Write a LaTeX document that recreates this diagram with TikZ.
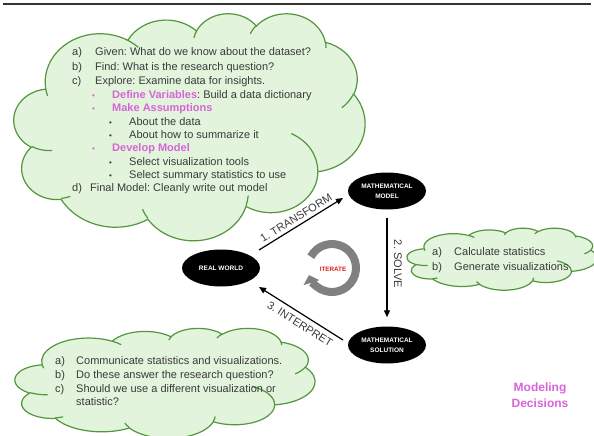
\documentclass[tikz,border=0pt]{standalone}
\usepackage{fontspec}
\setmainfont{Liberation Sans}
\usetikzlibrary{shapes.geometric,arrows.meta}
\definecolor{cloudfill}{RGB}{226,244,220}
\definecolor{cloudline}{RGB}{84,150,62}
\definecolor{txtgray}{RGB}{58,58,58}
\definecolor{pinkc}{RGB}{216,100,216}
\definecolor{ringgray}{RGB}{128,128,128}
\definecolor{iterred}{RGB}{222,30,30}
\frenchspacing

% OOXML-style elliptical arc (geometric angles -> parametric)
\newcommand\cldarc[4]{arc[x radius=#1, y radius=#2,
  start angle={atan2((#1)*sin(#3),(#2)*cos(#3))},
  delta angle={mod(atan2((#1)*sin((#3)+(#4)),(#2)*cos((#3)+(#4)))-atan2((#1)*sin(#3),(#2)*cos(#3))+720,360)}]}
\newcommand\cloudouter{(39.00,143.70)
 \cldarc{67.53}{91.90}{-190.4875}{123.7805}
 \cldarc{53.33}{72.67}{-144.1024}{89.9452}
 \cldarc{43.65}{59.45}{-145.8079}{99.7230}
 \cldarc{48.57}{65.95}{-130.9861}{117.2417}
 \cldarc{53.33}{72.73}{-78.7089}{109.0269}
 \cldarc{67.75}{92.20}{-46.2673}{130.2690}
 \cldarc{57.85}{78.67}{0.6250}{114.0333}
 \cldarc{67.52}{92.15}{22.4516}{115.1726}
 \cldarc{77.20}{105.43}{66.2426}{75.7110}
 \cldarc{43.60}{59.18}{-274.9421}{146.7356}
 \cldarc{43.45}{59.45}{-246.8285}{152.5189}
 -- cycle}
\newcommand\cloudinner{(46.93,261.77) \cldarc{43.45}{59.45}{86.742}{26.4295}
 (69.28,348.99) \cldarc{43.60}{59.18}{73.6105}{11.4475}
 (164.78,390.90) \cldarc{67.52}{92.15}{137.6242}{14.0811}
 (288.27,347.51) \cldarc{67.52}{92.15}{6.4533}{15.9984}
 (341.29,229.54) \cldarc{57.85}{78.67}{-70.2924}{70.9174}
 (417.98,153.54) \cldarc{53.33}{72.73}{30.3180}{27.7515}
 (383.24,54.26) \cldarc{48.57}{65.95}{-13.7443}{14.8589}
 (290.78,39.52) \cldarc{48.57}{65.95}{-149.1815}{18.1954}
 (221.41,47.20) \cldarc{43.65}{59.45}{-163.4943}{17.6864}
 (140.00,51.92) \cldarc{67.53}{91.90}{-66.7070}{12.3194}
 (41.27,157.89) \cldarc{67.53}{91.90}{157.6544}{11.8582}}

\tikzset{
  cloudshape/.style={fill=cloudfill, draw=cloudline, line width=1.2pt},
  cloudin/.style={draw=cloudline, line width=1.2pt},
  txt/.style={anchor=mid west, inner sep=0pt, text=txtgray, font=\fontsize{11}{13}\selectfont},
  pinktxt/.style={txt, text=pinkc, font=\fontsize{11}{13}\selectfont\bfseries},
  bul/.style={anchor=mid west, inner sep=0pt, text=txtgray, font=\fontsize{8}{10}\selectfont},
  pbul/.style={bul, text=pinkc},
  ell/.style={ellipse, fill=black, minimum width=78pt, minimum height=37pt, inner sep=0pt,
    text=white, align=center, font=\fontsize{6.5}{10}\selectfont\bfseries},
  conn/.style={draw=black, line width=1.2pt, -{Triangle[length=7pt,width=6pt]}},
  lab/.style={inner sep=0pt, text=txtgray, font=\fontsize{11}{13}\selectfont},
  ring/.style={draw=ringgray, line width=8pt, -{Triangle[length=8pt,width=16pt]}},
  topline/.style={draw=black!80, line width=1.5pt}
}

\begin{document}
\begin{tikzpicture}[x=1pt, y=-1pt]
\useasboundingbox (0,0) rectangle (594,436);
\fill[white] (0,0) rectangle (594,436);

% top rule
\coordinate (tl) at (3,4);
\coordinate (tr) at (591,4);
\draw[topline] (tl) -- (tr);

% clouds
\begin{scope}[shift={(14,13)}, x=0.8125pt, y=-0.52546pt]
  \path[cloudshape] \cloudouter;
  \path[cloudin] \cloudinner;
\end{scope}
\begin{scope}[shift={(407,228)}, x=0.4398pt, y=-0.14352pt]
  \path[cloudshape] \cloudouter;
  \path[cloudin] \cloudinner;
\end{scope}
\begin{scope}[shift={(15,328)}, x=0.69444pt, y=-0.25463pt]
  \path[cloudshape] \cloudouter;
  \path[cloudin] \cloudinner;
\end{scope}

% big cloud text
\node[txt] (ga) at (72,53) {a)};
\node[txt] (gat) at (95,53) {Given: What do we know about the dataset?};
\node[txt] (gb) at (72,68) {b)};
\node[txt] (gbt) at (95,68) {Find: What is the research question?};
\node[txt] (gc) at (72,82) {c)};
\node[txt] (gct) at (95,82) {Explore: Examine data for insights.};
\node[pbul] (p1) at (92,96) {•};
\node[txt] (p1t) at (112,96) {\textcolor{pinkc}{\bfseries Define Variables}: Build a data dictionary};
\node[pbul] (p2) at (92,109) {•};
\node[pinktxt] (p2t) at (112,109) {Make Assumptions};
\node[bul] (b1) at (109,123) {•};
\node[txt] (b1t) at (129,123) {About the data};
\node[bul] (b2) at (109,136) {•};
\node[txt] (b2t) at (129,136) {About how to summarize it};
\node[pbul] (p3) at (92,149) {•};
\node[pinktxt] (p3t) at (112,149) {Develop Model};
\node[bul] (b3) at (109,163) {•};
\node[txt] (b3t) at (129,163) {Select visualization tools};
\node[bul] (b4) at (109,176) {•};
\node[txt] (b4t) at (129,176) {Select summary statistics to use};
\node[txt] (gd) at (72,189) {d)};
\node[txt] (gdt) at (90,189) {Final Model: Cleanly write out model};

% right cloud text
\node[txt] (ra) at (432,253) {a)};
\node[txt] (rat) at (454,253) {Calculate statistics};
\node[txt] (rb) at (432,268) {b)};
\node[txt] (rbt) at (454,268) {Generate visualizations};

% bottom cloud text
\node[txt] (ba) at (55,362) {a)};
\node[txt] (bat) at (76,362) {Communicate statistics and visualizations.};
\node[txt] (bb) at (55,376) {b)};
\node[txt] (bbt) at (76,376) {Do these answer the research question?};
\node[txt] (bc) at (55,390) {c)};
\node[txt] (bct) at (76,390) {Should we use a different visualization or};
\node[txt] (bct2) at (76,403) {statistic?};

% ellipses
\node[ell] (rw) at (221,268) {REAL WORLD};
\node[ell] (mm) at (387,191) {MATHEMATICAL\\MODEL};
\node[ell] (ms) at (387,345) {MATHEMATICAL\\SOLUTION};

% connectors
\draw[conn] ([shift={(38,-18)}]rw.center) -- ([shift={(-44,7)}]mm.center);
\draw[conn] ([shift={(0,8)}]mm.south) -- ([shift={(0,-9)}]ms.north);
\draw[conn] ([shift={(-44,-5)}]ms.center) -- ([shift={(38,19)}]rw.center);

\node[lab, rotate=31.8] (l1) at (296,218) {1. TRANSFORM};
\node[lab, rotate=-90] (l2) at (398,264) {2. SOLVE};
\node[lab, rotate=-32.2] (l3) at (300,324) {3. INTERPRET};

% iterate ring
\coordinate (itc) at (332,268);
\draw[ring] ([shift={(-152:24)}]itc) arc[start angle=-152, end angle=163, radius=24];
\node[inner sep=0pt, text=iterred, font=\fontsize{6.3}{7}\selectfont\bfseries] (it) at (333,269) {ITERATE};

% modeling decisions
\node[align=center, text=pinkc, font=\fontsize{12}{16}\selectfont\bfseries] (md) at (540,395) {Modeling\\Decisions};
\end{tikzpicture}
\end{document}
